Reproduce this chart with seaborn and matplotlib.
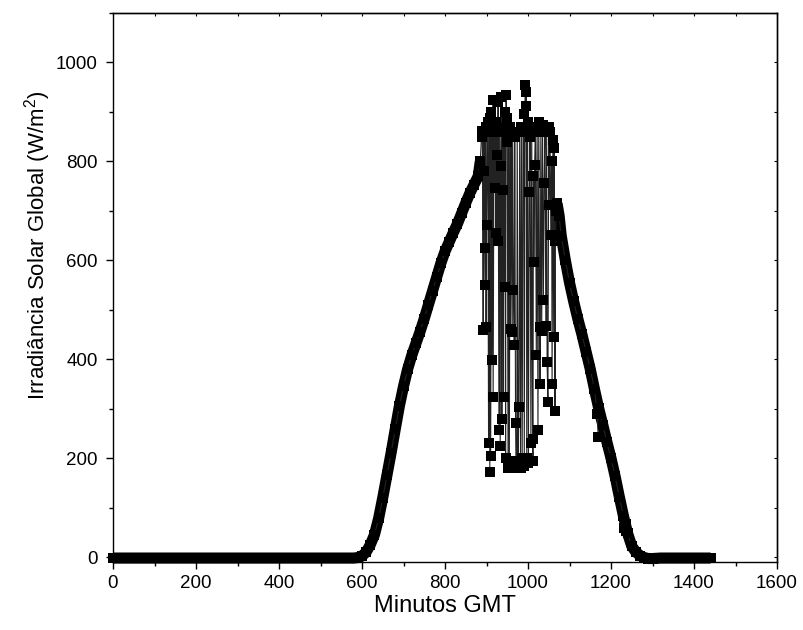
import matplotlib
matplotlib.use("Agg")
import matplotlib.pyplot as plt
from matplotlib.ticker import MultipleLocator
import numpy as np
import pandas as pd
import seaborn as sns

sns.set_theme(style="ticks")
plt.rcParams["font.family"] = ["Liberation Sans", "DejaVu Sans"]
plt.rcParams["mathtext.fontset"] = "custom"
plt.rcParams["mathtext.rm"] = "Liberation Sans"

# night / sunrise (clear sky part of the morning)
morning_min = [0, 20, 40, 60, 80, 100, 120, 140, 160, 180, 200, 220, 240, 260, 280,
               300, 320, 340, 360, 380, 400, 420, 440, 460, 480, 500, 520, 540, 560, 580,
               590, 600, 610, 620, 630, 640, 650, 660, 670, 680, 690, 700, 710, 720, 730,
               740, 750, 760, 770, 780, 790, 800, 810, 820, 830, 840, 850, 860, 870, 880, 885]
morning_val = [-2, -2, -2, -2, -2, -2, -2, -2, -2, -2, -2, -2, -2, -2, -2,
               -2, -2, -2, -2, -2, -2, -2, -2, -2, -2, -2, -2, -2, -2, -2,
               -1, 2, 10, 25, 45, 78, 120, 165, 210, 258, 305, 345, 380, 408, 432,
               456, 482, 510, 538, 566, 594, 618, 637, 656, 674, 695, 716, 736, 753, 770, 800]

# cloudy burst around noon
cloud_min = [888, 890, 892, 893, 894, 896, 897, 898, 899, 900, 902, 903, 905, 906, 908,
             909, 910, 912, 913, 915, 916, 918, 920, 921, 923, 924, 925, 927, 928, 930,
             931, 933, 934, 936, 937, 938, 940, 941, 942, 944, 945, 946, 947, 949, 950,
             952, 953, 955, 957, 958, 960, 962, 963, 965, 967, 968, 970, 971, 973, 974,
             976, 978, 980, 982, 984, 986, 988, 990, 991, 993, 995, 996, 997, 999, 1001,
             1003, 1005, 1007, 1009, 1011, 1012, 1013, 1015, 1016, 1018, 1020, 1022, 1024, 1026, 1028,
             1029, 1031, 1033, 1035, 1037, 1039, 1041, 1043, 1045, 1046, 1048, 1050, 1051, 1053, 1055,
             1057, 1058, 1060, 1062, 1063, 1065, 1066, 1068]
cloud_val = [850, 861, 460, 780, 862, 624, 550, 870, 465, 671, 860, 880, 230, 870, 171,
             888, 205, 900, 398, 925, 323, 860, 746, 925, 655, 880, 813, 640, 920, 256,
             870, 225, 790, 930, 279, 860, 743, 323, 870, 546, 900, 200, 935, 888, 840,
             180, 860, 185, 870, 462, 850, 455, 860, 540, 428, 850, 272, 195, 181, 860,
             190, 303, 860, 180, 870, 200, 861, 895, 185, 955, 911, 941, 200, 880, 190,
             739, 850, 230, 860, 239, 195, 770, 597, 793, 870, 408, 860, 256, 880, 465,
             350, 860, 458, 874, 519, 756, 867, 467, 860, 394, 313, 870, 712, 860, 651,
             800, 350, 844, 445, 828, 296, 640, 700]

# clear sky afternoon / sunset / night
evening_min = [1070, 1075, 1080, 1090, 1100, 1110, 1120, 1130, 1140, 1150, 1160, 1170, 1180, 1190,
               1200, 1210, 1220, 1230, 1240, 1250, 1260, 1270, 1280, 1290, 1300, 1320, 1340, 1360,
               1380, 1400, 1420, 1440]
evening_val = [715, 690, 650, 600, 555, 517, 482, 450, 415, 380, 340, 302, 268, 233,
               200, 163, 122, 83, 48, 22, 10, 3, -1, -3, -3, -2, -2, -2,
               -2, -2, -2, -2]

# isolated drops on the afternoon slope
spike_min = [1167, 1169, 1232, 1235, 1237]
spike_val = [290, 242, 58, 66, 52]

df = pd.DataFrame({
    "minute": morning_min + cloud_min + evening_min + spike_min,
    "irr": morning_val + cloud_val + evening_val + spike_val,
}).sort_values("minute")
df_morning = pd.DataFrame({"minute": morning_min, "irr": morning_val})
df_evening = pd.DataFrame({"minute": evening_min, "irr": evening_val})

fig = plt.figure(figsize=(8.04, 6.3), dpi=100)
ax = fig.add_axes([113 / 804, 1 - 562 / 630, 664 / 804, 549 / 630])

# dense per-minute series appears as a solid band where the sky is clear
for d in (df_morning, df_evening):
    sns.lineplot(data=d, x="minute", y="irr", ax=ax, estimator=None, sort=False,
                 color="black", linewidth=8, solid_capstyle="butt",
                 solid_joinstyle="round", clip_on=False)

sns.lineplot(data=df, x="minute", y="irr", ax=ax, estimator=None, sort=False,
             color="#222222", linewidth=0.8, marker="s", markersize=7,
             markerfacecolor="black", markeredgewidth=0, clip_on=False)

ax.set_xlim(0, 1600)
ax.set_ylim(-10, 1100)
ax.xaxis.set_major_locator(MultipleLocator(200))
ax.xaxis.set_minor_locator(MultipleLocator(100))
ax.yaxis.set_major_locator(MultipleLocator(200))
ax.yaxis.set_minor_locator(MultipleLocator(100))
ax.set_yticks([0, 200, 400, 600, 800, 1000])
ax.tick_params(which="major", direction="out", length=5, width=1, color="black",
               labelsize=13.5, labelcolor="black")
ax.tick_params(axis="y", which="major", pad=6)
ax.tick_params(axis="x", which="major", pad=4)
ax.tick_params(which="minor", direction="out", length=3, width=1, color="black")

for s in ax.spines.values():
    s.set_visible(True)
    s.set_color("black")
    s.set_linewidth(1.0)

top = ax.secondary_xaxis("top")
top.xaxis.set_major_locator(MultipleLocator(100))
top.tick_params(direction="in", length=2.5, width=0.8, labeltop=False, color="black")
top.spines["top"].set_linewidth(1.0)
right = ax.secondary_yaxis("right")
right.yaxis.set_major_locator(MultipleLocator(100))
right.tick_params(direction="in", length=2.5, width=0.8, labelright=False, color="black")
right.spines["right"].set_linewidth(1.0)

ax.set_xlabel("Minutos GMT", fontsize=17, color="black")
ax.set_ylabel("Irradiância Solar Global (W/m$^2$)", fontsize=16, color="black")
ax.xaxis.set_label_coords(0.5, -0.060)
ax.yaxis.set_label_coords(-0.091, 0.577)

fig.savefig("out.png", dpi=100)
